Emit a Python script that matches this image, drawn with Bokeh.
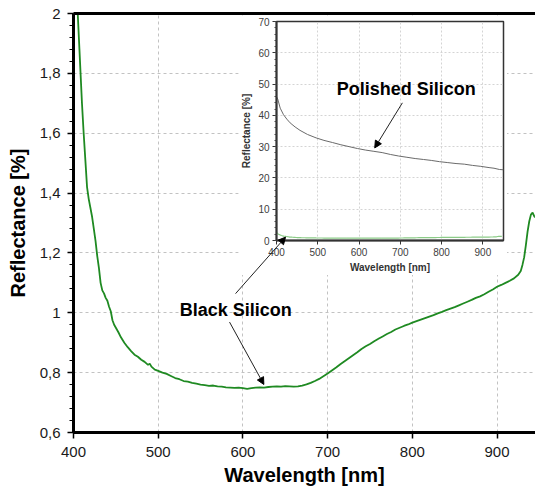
from bokeh.plotting import figure
from bokeh.models import Range1d, LinearAxis, FixedTicker, Arrow, NormalHead, Label
from bokeh.layouts import column
from bokeh.embed import file_html
from bokeh.resources import INLINE
import numpy as np

# ---------------- data ----------------
black_wavelength = [400, 402, 404, 405, 407, 408, 410, 412, 414, 416, 418, 420, 422, 424, 426, 428,
                    430, 432, 434, 436, 438, 440, 442, 444, 446, 448, 450, 453, 456, 460, 464, 468,
                    472, 476, 480, 484, 488, 490, 492, 496, 500, 505, 510, 515, 520, 525, 530, 535,
                    540, 545, 550, 555, 560, 565, 570, 575, 580, 585, 590, 595, 600, 605, 610, 615,
                    620, 625, 630, 635, 640, 645, 650, 655, 660, 665, 670, 675, 680, 685, 690, 695,
                    700, 705, 710, 715, 720, 725, 730, 735, 740, 745, 750, 755, 760, 765, 770, 775,
                    780, 785, 790, 795, 800, 805, 810, 815, 820, 825, 830, 835, 840, 845, 850, 855,
                    860, 865, 870, 875, 880, 885, 890, 895, 900, 905, 910, 915, 920, 925, 928, 930,
                    932, 934, 936, 938, 940, 942, 944, 946]
black_reflectance = [2.80, 2.35, 2.08, 2.00, 1.88, 1.82, 1.70, 1.60, 1.51, 1.42, 1.38, 1.35, 1.32, 1.28,
                     1.24, 1.19, 1.15, 1.10, 1.075, 1.065, 1.05, 1.04, 1.02, 1.005, 0.975, 0.96, 0.95,
                     0.935, 0.918, 0.90, 0.885, 0.872, 0.86, 0.853, 0.843, 0.836, 0.826, 0.83, 0.82,
                     0.81, 0.806, 0.800, 0.796, 0.789, 0.782, 0.778, 0.772, 0.770, 0.766, 0.763, 0.760,
                     0.758, 0.756, 0.757, 0.754, 0.753, 0.751, 0.750, 0.749, 0.750, 0.748, 0.746, 0.748,
                     0.750, 0.751, 0.750, 0.752, 0.753, 0.754, 0.753, 0.755, 0.754, 0.753, 0.754, 0.757,
                     0.761, 0.766, 0.772, 0.779, 0.788, 0.797, 0.807, 0.817, 0.828, 0.838, 0.848, 0.858,
                     0.868, 0.879, 0.888, 0.896, 0.905, 0.913, 0.921, 0.929, 0.936, 0.944, 0.950, 0.956,
                     0.961, 0.967, 0.972, 0.977, 0.982, 0.987, 0.992, 0.998, 1.003, 1.009, 1.014, 1.019,
                     1.025, 1.031, 1.037, 1.043, 1.050, 1.055, 1.062, 1.070, 1.078, 1.087, 1.093, 1.100,
                     1.107, 1.115, 1.127, 1.140, 1.160, 1.185, 1.225, 1.270, 1.305, 1.328, 1.335, 1.322,
                     1.318]

polished_wavelength = [400, 403, 409, 417, 425, 433, 445, 457, 475, 496, 515, 536, 556, 576, 596, 616,
                       636, 656, 676, 696, 716, 736, 756, 775, 795, 815, 835, 855, 875, 895, 915, 927,
                       940, 950]
polished_reflectance = [46.0, 45.2, 42.3, 40.2, 38.8, 37.6, 36.3, 35.2, 33.9, 32.8, 32.0, 31.3, 30.6,
                        30.0, 29.4, 28.9, 28.5, 28.1, 27.5, 27.0, 26.6, 26.2, 25.9, 25.6, 25.2, 24.9,
                        24.6, 24.4, 24.0, 23.7, 23.3, 23.1, 22.7, 22.6]

main_x_ticks = [400, 500, 600, 700, 800, 900]
main_y_ticks = [0.6, 0.8, 1.0, 1.2, 1.4, 1.6, 1.8, 2.0]
main_y_labels = ["0,6", "0,8", "1", "1,2", "1,4", "1,6", "1,8", "2"]
inset_x_ticks = [400, 500, 600, 700, 800, 900]
inset_y_ticks = [0, 10, 20, 30, 40, 50, 60, 70]

FONT = "Liberation Sans"
GREEN = "#1f8a22"

# ---------------- main figure ----------------
xr = Range1d(400, 945.4)
yr = Range1d(0.6, 2.0)
W, H = 535, 491
BL, BR, BT, BB = 73, 0, 13, 59

main = figure(width=W, height=H, x_range=xr, y_range=yr, output_backend="svg",
              toolbar_location=None, min_border_left=BL, min_border_right=BR,
              min_border_top=BT, min_border_bottom=BB,
              x_axis_label="Wavelength [nm]", y_axis_label="Reflectance [%]")
main.outline_line_color = None
main.background_fill_color = "white"

xa = main.xaxis[0]
xa.ticker = FixedTicker(ticks=main_x_ticks)
ya = main.yaxis[0]
ya.ticker = FixedTicker(ticks=main_y_ticks,
                        minor_ticks=np.round(np.arange(0.6, 2.0001, 0.04), 2).tolist())
ya.major_label_overrides = {t: l for t, l in zip(main_y_ticks, main_y_labels)}
for ax in (xa, ya):
    ax.axis_line_width = 3
    ax.axis_line_color = "black"
    ax.major_tick_line_color = "black"
    ax.major_tick_line_width = 1.5
    ax.major_tick_out = 6
    ax.major_tick_in = 0
    ax.minor_tick_out = 4
    ax.minor_tick_in = 0
    ax.minor_tick_line_color = "black"
    ax.minor_tick_line_width = 1.2
    ax.major_label_text_font = FONT
    ax.major_label_text_font_size = "15px"
    ax.major_label_text_color = "#1a1a1a"
    ax.axis_label_text_font = FONT
    ax.axis_label_text_font_size = "20px"
    ax.axis_label_text_font_style = "bold"
    ax.axis_label_text_color = "black"
xa.minor_tick_line_color = None
xa.major_label_standoff = 8
xa.axis_label_standoff = 4
ya.major_label_standoff = 7
ya.axis_label_standoff = 8

top_axis = LinearAxis(ticker=FixedTicker(ticks=[]), axis_line_width=3, axis_line_color="black",
                      major_tick_out=0, major_tick_in=0, minor_tick_out=0, minor_tick_in=0,
                      major_label_standoff=0, major_label_text_font_size="0px")
main.add_layout(top_axis, "above")

main.xgrid.ticker = FixedTicker(ticks=[500, 600, 700, 800, 900])
main.ygrid.ticker = FixedTicker(ticks=[0.8, 1.0, 1.2, 1.4, 1.6, 1.8])
main.grid.grid_line_color = "#c2c2c2"
main.grid.grid_line_dash = "3 3"
main.grid.grid_line_width = 1

main.line(black_wavelength, black_reflectance, line_color=GREEN, line_width=1.8)

# ---------------- inset figure ----------------
inset = figure(width=269, height=260, x_range=Range1d(400, 950), y_range=Range1d(0, 70),
               output_backend="svg", toolbar_location=None,
               min_border_left=35, min_border_right=4, min_border_top=6, min_border_bottom=33,
               x_axis_label="Wavelength [nm]", y_axis_label="Reflectance [%]")
inset.outline_line_color = "#333333"
inset.outline_line_width = 1.5
ixa = inset.xaxis[0]
iya = inset.yaxis[0]
ixa.ticker = FixedTicker(ticks=inset_x_ticks)
iya.ticker = FixedTicker(ticks=inset_y_ticks, minor_ticks=list(range(0, 71, 2)))
for ax in (ixa, iya):
    ax.axis_line_width = 2
    ax.axis_line_color = "#333333"
    ax.major_tick_line_color = "#333333"
    ax.major_tick_out = 4
    ax.major_tick_in = 0
    ax.minor_tick_out = 2
    ax.minor_tick_in = 0
    ax.minor_tick_line_color = "#444444"
    ax.major_label_text_font = FONT
    ax.major_label_text_font_size = "10px"
    ax.major_label_text_color = "#404040"
    ax.major_label_standoff = 3
    ax.axis_label_text_font = FONT
    ax.axis_label_text_font_size = "10px"
    ax.axis_label_text_font_style = "bold"
    ax.axis_label_text_color = "#333333"
    ax.axis_label_standoff = 3
ixa.minor_tick_line_color = None
inset.xgrid.ticker = FixedTicker(ticks=[500, 600, 700, 800, 900])
inset.ygrid.ticker = FixedTicker(ticks=[10, 20, 30, 40, 50, 60])
inset.grid.grid_line_color = "#d4d4d4"
inset.grid.grid_line_dash = "2 2"

inset.line(polished_wavelength, polished_reflectance, line_color="#6a6a6a", line_width=1)
inset.line(black_wavelength, black_reflectance, line_color="#8ccc88", line_width=1.2)

inset.add_layout(Label(x=546, y=48.4, text="Polished Silicon", text_font=FONT,
                       text_font_size="18px", text_font_style="bold", text_color="black",
                       text_align="left", text_baseline="middle"))
inset.add_layout(Arrow(end=NormalHead(size=7, fill_color="black", line_color="black"),
                       x_start=705, y_start=44.0, x_end=638, y_end=29.6,
                       line_color="#222222", line_width=1))

# ---------------- overlay figure (annotations over both) ----------------
over = figure(width=W, height=H, x_range=xr, y_range=yr, output_backend="svg",
              toolbar_location=None, min_border_left=BL, min_border_right=BR,
              min_border_top=BT, min_border_bottom=BB,
              x_axis_location=None, y_axis_location=None)
over.grid.visible = False
over.outline_line_color = None
over.background_fill_alpha = 0
over.border_fill_alpha = 0

over.add_layout(Label(x=525.5, y=1.008, text="Black Silicon", text_font=FONT,
                      text_font_size="18px", text_font_style="bold", text_color="black",
                      text_align="left", text_baseline="middle"))
over.add_layout(Arrow(end=NormalHead(size=7, fill_color="black", line_color="black"),
                      x_start=591.3, y_start=1.064, x_end=650.3, y_end=1.2526,
                      line_color="#222222", line_width=1))
over.add_layout(Arrow(end=NormalHead(size=7, fill_color="black", line_color="black"),
                      x_start=584.2, y_start=0.969, x_end=624.7, y_end=0.7605,
                      line_color="#222222", line_width=1))

inset_box = column(inset, styles={"position": "absolute", "left": "238px", "top": "15px"})
over_box = column(over, styles={"position": "absolute", "left": "0px", "top": "0px"})
layout = column(main, inset_box, over_box, styles={"position": "relative"})
open("out.html", "w").write(file_html(layout, INLINE))
